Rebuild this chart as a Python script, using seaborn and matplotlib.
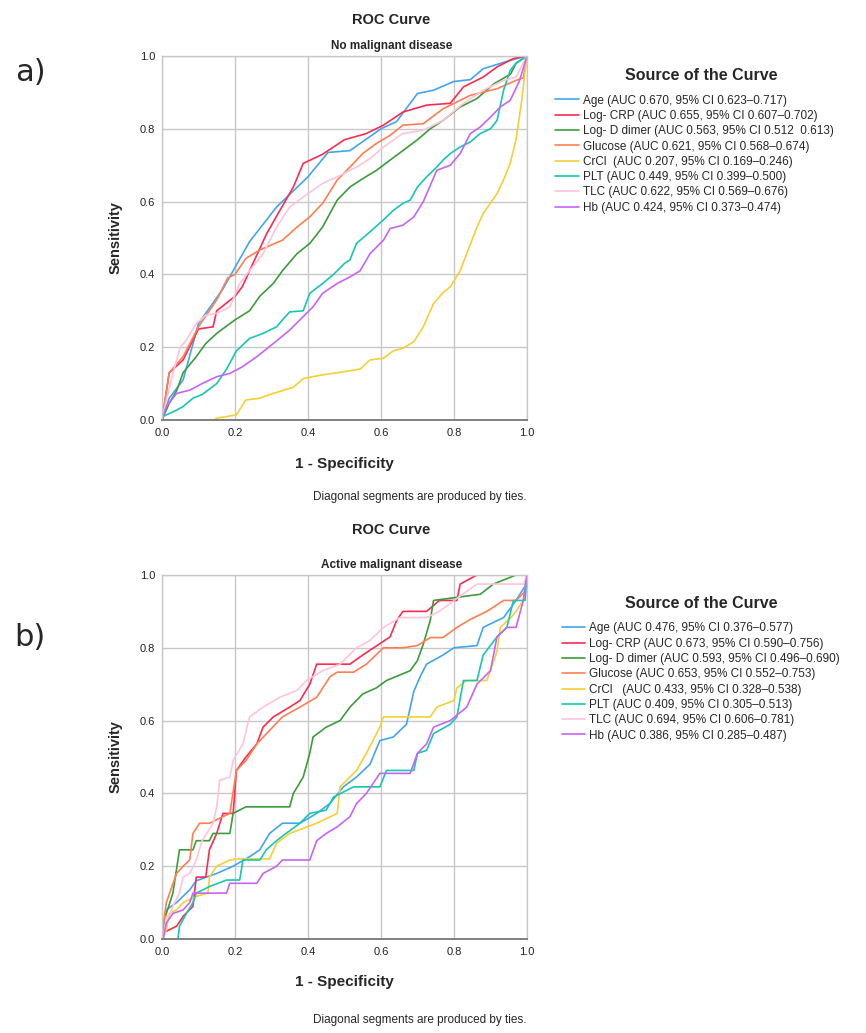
import numpy as np
import pandas as pd
import matplotlib
matplotlib.use("Agg")
import matplotlib.pyplot as plt
import seaborn as sns

# ---------------- data ----------------
variables = ["Age", "Log- CRP", "Log- D dimer", "Glucose", "CrCl", "PLT", "TLC", "Hb"]
colors = ["#41a6f0", "#ff2a52", "#3c9c3c", "#ff7f50", "#f5d033", "#14c8b4", "#ffc4dc", "#c864f8"]

labels_a = [
    "Age (AUC 0.670, 95% CI 0.623–0.717)",
    "Log- CRP (AUC 0.655, 95% CI 0.607–0.702)",
    "Log- D dimer (AUC 0.563, 95% CI 0.512  0.613)",
    "Glucose (AUC 0.621, 95% CI 0.568–0.674)",
    "CrCl  (AUC 0.207, 95% CI 0.169–0.246)",
    "PLT (AUC 0.449, 95% CI 0.399–0.500)",
    "TLC (AUC 0.622, 95% CI 0.569–0.676)",
    "Hb (AUC 0.424, 95% CI 0.373–0.474)",
]
labels_b = [
    "Age (AUC 0.476, 95% CI 0.376–0.577)",
    "Log- CRP (AUC 0.673, 95% CI 0.590–0.756)",
    "Log- D dimer (AUC 0.593, 95% CI 0.496–0.690)",
    "Glucose (AUC 0.653, 95% CI 0.552–0.753)",
    "CrCl   (AUC 0.433, 95% CI 0.328–0.538)",
    "PLT (AUC 0.409, 95% CI 0.305–0.513)",
    "TLC (AUC 0.694, 95% CI 0.606–0.781)",
    "Hb (AUC 0.386, 95% CI 0.285–0.487)",
]

# panel a) no malignant disease: (1-specificity, sensitivity)
age_a = [(0, 0), (0.02, 0.06), (0.058, 0.11), (0.1, 0.265), (0.167, 0.36), (0.24, 0.49), (0.314, 0.585),
         (0.4, 0.668), (0.455, 0.735), (0.515, 0.74), (0.6, 0.80), (0.643, 0.82), (0.7, 0.897),
         (0.744, 0.906), (0.8, 0.93), (0.845, 0.935), (0.88, 0.965), (0.954, 0.988), (1, 1)]
crp_a = [(0, 0), (0.02, 0.13), (0.058, 0.165), (0.1, 0.25), (0.14, 0.256), (0.15, 0.3), (0.2, 0.34),
         (0.22, 0.366), (0.24, 0.41), (0.286, 0.51), (0.314, 0.56), (0.36, 0.64), (0.387, 0.705),
         (0.44, 0.73), (0.5, 0.77), (0.56, 0.787), (0.607, 0.81), (0.66, 0.846), (0.725, 0.865),
         (0.79, 0.87), (0.826, 0.915), (0.88, 0.942), (0.918, 0.97), (0.963, 0.993), (1, 1)]
ddim_a = [(0, 0), (0.02, 0.046), (0.04, 0.08), (0.058, 0.13), (0.094, 0.174), (0.12, 0.21), (0.15, 0.238),
          (0.2, 0.275), (0.24, 0.3), (0.268, 0.34), (0.305, 0.375), (0.33, 0.41), (0.37, 0.457),
          (0.405, 0.485), (0.44, 0.53), (0.48, 0.604), (0.515, 0.64), (0.55, 0.663), (0.588, 0.686),
          (0.625, 0.714), (0.66, 0.74), (0.7, 0.77), (0.735, 0.80), (0.77, 0.823), (0.817, 0.86),
          (0.863, 0.883), (0.91, 0.924), (0.955, 0.95), (0.97, 0.98), (1, 1)]
gluc_a = [(0, 0), (0.02, 0.13), (0.058, 0.174), (0.1, 0.256), (0.15, 0.33), (0.18, 0.39), (0.2, 0.40),
          (0.23, 0.444), (0.268, 0.467), (0.33, 0.494), (0.37, 0.53), (0.405, 0.558), (0.44, 0.595),
          (0.48, 0.659), (0.515, 0.695), (0.55, 0.732), (0.588, 0.76), (0.625, 0.782), (0.66, 0.81),
          (0.716, 0.814), (0.77, 0.855), (0.845, 0.892), (0.918, 0.91), (0.97, 0.933), (0.99, 0.94), (1, 1)]
crcl_a = [(0, 0), (0.143, 0), (0.15, 0.005), (0.204, 0.014), (0.23, 0.055), (0.268, 0.06), (0.295, 0.07),
          (0.36, 0.09), (0.387, 0.114), (0.44, 0.124), (0.5, 0.133), (0.543, 0.14), (0.57, 0.165),
          (0.607, 0.17), (0.634, 0.19), (0.66, 0.197), (0.69, 0.215), (0.716, 0.256), (0.744, 0.32),
          (0.77, 0.35), (0.79, 0.366), (0.817, 0.41), (0.835, 0.457), (0.863, 0.53), (0.88, 0.567),
          (0.918, 0.622), (0.936, 0.66), (0.954, 0.705), (0.97, 0.77), (0.986, 0.88), (0.995, 0.96), (1, 1)]
plt_a = [(0, 0), (0.003, 0.01), (0.04, 0.027), (0.058, 0.037), (0.085, 0.06), (0.11, 0.07), (0.15, 0.1),
         (0.177, 0.14), (0.204, 0.19), (0.24, 0.224), (0.277, 0.238), (0.314, 0.256), (0.33, 0.275),
         (0.35, 0.297), (0.387, 0.3), (0.405, 0.348), (0.44, 0.375), (0.47, 0.40), (0.5, 0.43),
         (0.515, 0.44), (0.533, 0.485), (0.57, 0.517), (0.607, 0.55), (0.634, 0.576), (0.66, 0.595),
         (0.68, 0.604), (0.70, 0.64), (0.725, 0.668), (0.753, 0.695), (0.77, 0.714), (0.79, 0.732),
         (0.817, 0.75), (0.845, 0.764), (0.872, 0.787), (0.9, 0.80), (0.918, 0.823), (0.936, 0.906),
         (0.954, 0.96), (0.97, 0.98), (1, 1)]
tlc_a = [(0, 0), (0.012, 0.055), (0.03, 0.128), (0.05, 0.2), (0.067, 0.22), (0.094, 0.265), (0.12, 0.288),
         (0.15, 0.293), (0.186, 0.311), (0.213, 0.375), (0.24, 0.41), (0.277, 0.457), (0.314, 0.53),
         (0.35, 0.585), (0.387, 0.613), (0.44, 0.65), (0.48, 0.668), (0.533, 0.695), (0.57, 0.718),
         (0.607, 0.75), (0.66, 0.787), (0.716, 0.796), (0.77, 0.823), (0.826, 0.87), (0.88, 0.906),
         (0.936, 0.933), (0.97, 0.942), (1, 1)]
hb_a = [(0, 0), (0.012, 0.037), (0.04, 0.073), (0.076, 0.082), (0.11, 0.1), (0.15, 0.119), (0.186, 0.128),
        (0.22, 0.146), (0.26, 0.174), (0.305, 0.21), (0.35, 0.247), (0.387, 0.284), (0.414, 0.311),
        (0.44, 0.348), (0.48, 0.375), (0.515, 0.393), (0.543, 0.41), (0.57, 0.457), (0.607, 0.494),
        (0.625, 0.526), (0.66, 0.535), (0.69, 0.558), (0.716, 0.6), (0.753, 0.686), (0.79, 0.7),
        (0.817, 0.732), (0.845, 0.787), (0.872, 0.805), (0.9, 0.832), (0.927, 0.86), (0.954, 0.878),
        (0.98, 0.933), (1, 1)]

# panel b) active malignant disease
age_b = [(0, 0), (0.003, 0.0), (0.012, 0.08), (0.04, 0.1), (0.076, 0.135), (0.094, 0.16), (0.15, 0.18),
         (0.195, 0.2), (0.24, 0.226), (0.268, 0.245), (0.295, 0.29), (0.33, 0.318), (0.378, 0.318),
         (0.424, 0.345), (0.46, 0.372), (0.497, 0.418), (0.533, 0.445), (0.57, 0.48), (0.597, 0.545),
         (0.634, 0.555), (0.67, 0.59), (0.69, 0.68), (0.707, 0.72), (0.725, 0.755), (0.77, 0.78),
         (0.8, 0.8), (0.863, 0.806), (0.88, 0.856), (0.936, 0.883), (0.97, 0.93), (0.995, 0.97), (1, 1)]
crp_b = [(0, 0), (0.003, 0.017), (0.04, 0.035), (0.058, 0.062), (0.085, 0.09), (0.094, 0.17), (0.12, 0.17),
         (0.13, 0.245), (0.15, 0.29), (0.167, 0.345), (0.195, 0.345), (0.204, 0.463), (0.23, 0.5),
         (0.26, 0.536), (0.277, 0.582), (0.305, 0.61), (0.35, 0.637), (0.378, 0.655), (0.405, 0.7),
         (0.424, 0.755), (0.515, 0.755), (0.55, 0.78), (0.58, 0.8), (0.625, 0.83), (0.643, 0.875),
         (0.66, 0.9), (0.725, 0.9), (0.76, 0.93), (0.808, 0.93), (0.817, 0.975), (0.863, 1.0), (1, 1)]
ddim_b = [(0, 0), (0.003, 0.025), (0.012, 0.07), (0.03, 0.126), (0.048, 0.245), (0.085, 0.245), (0.094, 0.27),
          (0.13, 0.27), (0.14, 0.29), (0.186, 0.29), (0.195, 0.345), (0.23, 0.363), (0.35, 0.363),
          (0.36, 0.4), (0.387, 0.445), (0.405, 0.51), (0.414, 0.555), (0.45, 0.582), (0.488, 0.6),
          (0.515, 0.637), (0.55, 0.673), (0.588, 0.69), (0.615, 0.71), (0.68, 0.737), (0.7, 0.765),
          (0.716, 0.81), (0.735, 0.875), (0.744, 0.93), (0.872, 0.947), (0.908, 0.975), (0.97, 1.0), (1, 1)]
gluc_b = [(0, 0), (0.003, 0.035), (0.012, 0.1), (0.04, 0.18), (0.058, 0.2), (0.076, 0.217), (0.085, 0.29),
          (0.103, 0.318), (0.13, 0.318), (0.167, 0.336), (0.186, 0.345), (0.204, 0.463), (0.23, 0.49),
          (0.26, 0.536), (0.295, 0.573), (0.33, 0.61), (0.378, 0.637), (0.424, 0.664), (0.46, 0.72),
          (0.48, 0.733), (0.525, 0.733), (0.56, 0.755), (0.607, 0.8), (0.66, 0.8), (0.7, 0.806),
          (0.735, 0.828), (0.77, 0.828), (0.808, 0.856), (0.845, 0.878), (0.89, 0.9), (0.936, 0.93),
          (0.97, 0.93), (0.995, 0.955), (1, 1)]
crcl_b = [(0, 0), (0.003, 0.0), (0.012, 0.025), (0.02, 0.07), (0.04, 0.08), (0.058, 0.1), (0.094, 0.117),
          (0.126, 0.126), (0.13, 0.17), (0.15, 0.2), (0.186, 0.217), (0.204, 0.22), (0.295, 0.22),
          (0.314, 0.263), (0.35, 0.29), (0.424, 0.318), (0.48, 0.345), (0.488, 0.418), (0.533, 0.463),
          (0.56, 0.51), (0.597, 0.582), (0.607, 0.61), (0.735, 0.61), (0.753, 0.637), (0.8, 0.655),
          (0.808, 0.69), (0.835, 0.71), (0.89, 0.71), (0.918, 0.79), (0.927, 0.856), (0.963, 0.89),
          (0.99, 0.93), (1, 1)]
plt_b = [(0, 0), (0.044, 0), (0.048, 0.035), (0.067, 0.07), (0.085, 0.1), (0.094, 0.126), (0.13, 0.144),
         (0.177, 0.162), (0.213, 0.162), (0.222, 0.217), (0.268, 0.217), (0.286, 0.245), (0.314, 0.27),
         (0.34, 0.29), (0.378, 0.318), (0.405, 0.345), (0.45, 0.354), (0.47, 0.39), (0.525, 0.418),
         (0.597, 0.418), (0.615, 0.463), (0.69, 0.463), (0.7, 0.51), (0.725, 0.518), (0.744, 0.564),
         (0.79, 0.59), (0.808, 0.61), (0.826, 0.71), (0.863, 0.71), (0.88, 0.78), (0.918, 0.83),
         (0.945, 0.856), (0.963, 0.93), (0.995, 0.93), (1, 1)]
tlc_b = [(0, 0), (0.003, 0.0), (0.012, 0.062), (0.02, 0.062), (0.03, 0.09), (0.048, 0.126), (0.058, 0.17),
         (0.076, 0.18), (0.094, 0.217), (0.11, 0.27), (0.14, 0.318), (0.15, 0.363), (0.158, 0.436),
         (0.186, 0.445), (0.195, 0.49), (0.222, 0.536), (0.24, 0.61), (0.277, 0.637), (0.323, 0.664),
         (0.37, 0.683), (0.396, 0.71), (0.44, 0.737), (0.488, 0.755), (0.533, 0.8), (0.57, 0.82),
         (0.607, 0.856), (0.652, 0.883), (0.725, 0.883), (0.76, 0.9), (0.8, 0.93), (0.863, 0.975),
         (0.99, 0.975), (1, 1)]
hb_b = [(0, 0), (0.003, 0.0), (0.012, 0.044), (0.03, 0.07), (0.058, 0.08), (0.076, 0.1), (0.085, 0.126),
        (0.177, 0.126), (0.186, 0.153), (0.26, 0.153), (0.277, 0.18), (0.314, 0.2), (0.33, 0.217),
        (0.405, 0.217), (0.424, 0.27), (0.45, 0.29), (0.48, 0.308), (0.515, 0.336), (0.533, 0.372),
        (0.56, 0.4), (0.597, 0.455), (0.68, 0.455), (0.7, 0.51), (0.725, 0.536), (0.744, 0.582),
        (0.79, 0.6), (0.835, 0.637), (0.863, 0.7), (0.9, 0.737), (0.918, 0.83), (0.945, 0.856),
        (0.97, 0.856), (0.99, 0.93), (1, 1)]

curves_a = [age_a, crp_a, ddim_a, gluc_a, crcl_a, plt_a, tlc_a, hb_a]
curves_b = [age_b, crp_b, ddim_b, gluc_b, crcl_b, plt_b, tlc_b, hb_b]

ticks = [0.0, 0.2, 0.4, 0.6, 0.8, 1.0]
tick_labels = ["0.0", "0.2", "0.4", "0.6", "0.8", "1.0"]


def make_df(curves, labels):
    rows = []
    for lab, pts in zip(labels, curves):
        for i, (x, y) in enumerate(pts):
            rows.append({"fpr": x, "tpr": y, "curve": lab, "order": i})
    return pd.DataFrame(rows)


sns.set_theme(style="white")
plt.rcParams["font.family"] = ["Liberation Sans", "DejaVu Sans"]

fig = plt.figure(figsize=(8.66, 10.33), dpi=100)

panels = [
    # curves, labels, subtitle, letter, axes rect, title y, subtitle y, letter y, xlabel y, foot y,
    # legend title y, legend entries y, legend x
    (curves_a, labels_a, "No malignant disease", "a)", [0.187, 0.5934, 0.4215, 0.3524],
     0.981, 0.955, 0.930, 0.551, 0.519, 0.927, 0.913, 0.636),
    (curves_b, labels_b, "Active malignant disease", "b)", [0.187, 0.0910, 0.4215, 0.3524],
     0.487, 0.453, 0.383, 0.049, 0.013, 0.416, 0.402, 0.643),
]

for curves, labels, subtitle, letter, rect, ty, sy, ly, xly, fy, lty, legy, legx in panels:
    ax = fig.add_axes(rect)
    df = make_df(curves, labels)
    pal = dict(zip(labels, colors))
    sns.lineplot(data=df, x="fpr", y="tpr", hue="curve", hue_order=labels, palette=pal,
                 sort=False, estimator=None, units="curve", linewidth=1.2, ax=ax)
    ax.set_xlim(0, 1)
    ax.set_ylim(0, 1)
    ax.set_xticks(ticks)
    ax.set_xticklabels(tick_labels)
    ax.set_yticks(ticks)
    ax.set_yticklabels(tick_labels)
    ax.tick_params(labelsize=8, length=0, colors="#222222")
    ax.tick_params(axis="x", pad=6)
    ax.tick_params(axis="y", pad=5)
    ax.grid(True, color="#c8c8c8", linewidth=1.0)
    ax.set_axisbelow(True)
    for side in ["top", "right", "left"]:
        ax.spines[side].set_color("#c8c8c8")
        ax.spines[side].set_linewidth(1.0)
    ax.spines["bottom"].set_color("#808080")
    ax.spines["bottom"].set_linewidth(1.4)
    ax.set_xlabel("")
    ax.set_ylabel("Sensitivity", fontsize=10.5, fontweight="bold", labelpad=12)

    handles, labs = ax.get_legend_handles_labels()
    ax.legend(handles, labs, loc="upper left", bbox_to_anchor=(legx, legy),
              bbox_transform=fig.transFigure, frameon=False, fontsize=8.5,
              handlelength=2.0, handletextpad=0.3, labelspacing=0.28, borderaxespad=0)
    fig.text(0.81, lty, "Source of the Curve", ha="center", va="center",
             fontsize=11.5, fontweight="bold")

    fig.text(0.452, ty, "ROC Curve", ha="center", va="center", fontsize=10.5, fontweight="bold")
    fig.text(0.452, sy, subtitle, ha="center", va="center", fontsize=8.5, fontweight="bold")
    fig.text(0.035, ly, letter, ha="center", va="center", fontsize=22,
             family=["DejaVu Sans"])
    fig.text(0.398, xly, "1 - Specificity", ha="center", va="center", fontsize=11, fontweight="bold")
    fig.text(0.485, fy, "Diagonal segments are produced by ties.", ha="center", va="center", fontsize=8.5)

fig.savefig("out.png", dpi=100, facecolor="white")
